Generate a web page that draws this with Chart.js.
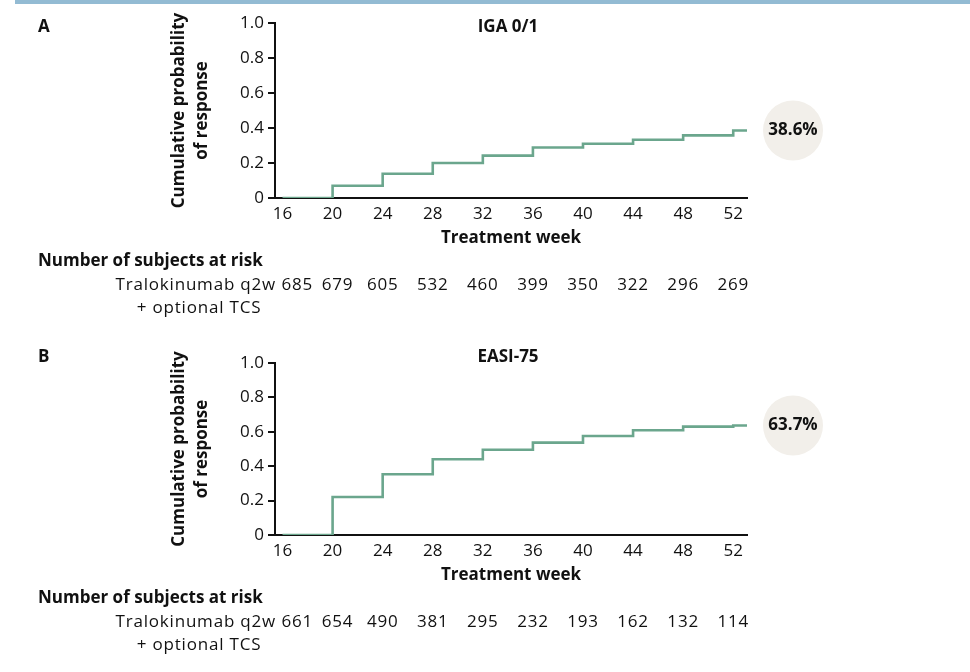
<!DOCTYPE html>
<html>
<head>
<meta charset="utf-8">
<script src="https://cdn.jsdelivr.net/npm/chart.js@4.4.1/dist/chart.umd.min.js"></script>
<style>
  body { margin: 0; background: #fff; width: 970px; height: 672px; position: relative; overflow: hidden; }
  #topbar { position: absolute; left: 15px; top: 0; width: 955px; height: 4px; background: #93bbd3; }
  canvas { position: absolute; left: 0; }
  #chart-a { top: 0; }
  #chart-b { top: 330px; }
</style>
</head>
<body>
<div id="topbar"></div>
<canvas id="chart-a" width="970" height="330"></canvas>
<canvas id="chart-b" width="970" height="342"></canvas>
<script>
// data
const weeks = [16, 20, 24, 28, 32, 36, 40, 44, 48, 52, 53.1];
const igaValues = [0, 0.07, 0.139, 0.2, 0.242, 0.289, 0.31, 0.333, 0.358, 0.386, 0.386];
const easiValues = [0, 0.221, 0.353, 0.44, 0.496, 0.537, 0.576, 0.609, 0.63, 0.637, 0.637];
const weekTicks = [16, 20, 24, 28, 32, 36, 40, 44, 48, 52];
const probTicks = [0, 0.2, 0.4, 0.6, 0.8, 1.0];
const igaAtRisk = [685, 679, 605, 532, 460, 399, 350, 322, 296, 269];
const easiAtRisk = [661, 654, 490, 381, 295, 232, 193, 162, 132, 114];

const fontFamily = "'Open Sans', sans-serif";
const textColor = "#111";
const lineColor = "#6ba68d";
const badgeColor = "#f2efea";
const axisColor = "#111";

const yAxisWidth = 110;
const xAxisHeight = 50;

Chart.defaults.font.family = fontFamily;
Chart.defaults.font.size = 17;
Chart.defaults.color = textColor;

const panelText = {
	id: "panelText",
	afterDraw(chart, args, p) {
		const { ctx, chartArea, scales } = chart;
		ctx.save();
		ctx.fillStyle = textColor;
		ctx.textBaseline = "middle";
		ctx.font = "bold 17px " + fontFamily;
		ctx.textAlign = "left";
		ctx.fillText(p.letter, 38, 27);
		ctx.textAlign = "center";
		ctx.fillText(p.title, 508, 27);

		// end value badge
		const vals = p.values;
		const by = scales.y.getPixelForValue(vals[vals.length - 1]);
		const bx = chartArea.right + 46;
		ctx.beginPath();
		ctx.arc(bx, by, 30, 0, Math.PI * 2);
		ctx.fillStyle = badgeColor;
		ctx.fill();
		ctx.fillStyle = textColor;
		ctx.fillText(p.badge, bx, by);

		// number at risk table
		const y0 = chartArea.bottom + 63;
		ctx.textAlign = "left";
		ctx.fillText("Number of subjects at risk", 38, y0);
		ctx.font = "17px " + fontFamily;
		ctx.letterSpacing = "0.8px";
		ctx.textAlign = "right";
		ctx.fillText("Tralokinumab q2w", 276, y0 + 24);
		ctx.textAlign = "center";
		ctx.fillText("+ optional TCS", 199, y0 + 47);
		p.atRisk.forEach((n, i) => {
			const x = scales.x.getPixelForValue(weekTicks[i]);
			if (i === 0) {
				ctx.textAlign = "left";
				ctx.fillText(n, x - 1, y0 + 24);
			} else {
				ctx.textAlign = "center";
				ctx.fillText(n, x + (i === 1 ? 5 : 0), y0 + 24);
			}
		});
		ctx.restore();
	},
};

function makeChart(id, panel) {
	const canvas = document.getElementById(id);
	return new Chart(canvas.getContext("2d"), {
		type: "line",
		data: {
			datasets: [
				{
					data: weeks.map((w, i) => ({ x: w, y: panel.values[i] })),
					stepped: "before",
					borderColor: lineColor,
					borderWidth: 2.6,
					pointRadius: 0,
					fill: false,
				},
			],
		},
		options: {
			responsive: false,
			animation: false,
			layout: {
				padding: {
					left: 275 - yAxisWidth,
					right: 223,
					top: panel.top,
					bottom: canvas.height - panel.bottom - xAxisHeight,
				},
			},
			plugins: {
				legend: { display: false },
				tooltip: { enabled: false },
				panelText: panel,
			},
			scales: {
				x: {
					type: "linear",
					min: 15.4,
					max: 53.1,
					afterBuildTicks: (s) => {
						s.ticks = weekTicks.map((v) => ({ value: v }));
					},
					afterFit: (s) => {
						s.height = xAxisHeight;
					},
					grid: { display: false, drawTicks: false },
					border: { display: true, color: axisColor, width: 2 },
					ticks: { padding: 6, maxRotation: 0, autoSkip: false },
					title: {
						display: true,
						text: "Treatment week",
						font: { size: 17, weight: "bold" },
						color: textColor,
						padding: { top: 0, bottom: 0 },
					},
				},
				y: {
					min: 0,
					max: 1,
					afterBuildTicks: (s) => {
						s.ticks = probTicks.map((v) => ({ value: v }));
					},
					afterFit: (s) => {
						s.width = yAxisWidth;
					},
					grid: { drawOnChartArea: false, drawTicks: true, tickLength: 7, color: axisColor, lineWidth: 2 },
					border: { display: true, color: axisColor, width: 2 },
					ticks: {
						padding: 4,
						callback: (v) => (v === 0 ? "0" : v.toFixed(1)),
					},
					title: {
						display: true,
						text: ["Cumulative probability", "of response"],
						font: { size: 17, weight: "bold", lineHeight: 1.35 },
						color: textColor,
						padding: { top: 3, bottom: 0 },
					},
				},
			},
		},
		plugins: [panelText],
	});
}

makeChart("chart-a", {
	letter: "A",
	title: "IGA 0/1",
	badge: "38.6%",
	values: igaValues,
	atRisk: igaAtRisk,
	top: 23,
	bottom: 198,
});

makeChart("chart-b", {
	letter: "B",
	title: "EASI-75",
	badge: "63.7%",
	values: easiValues,
	atRisk: easiAtRisk,
	top: 33,
	bottom: 205,
});
</script>
</body>
</html>
